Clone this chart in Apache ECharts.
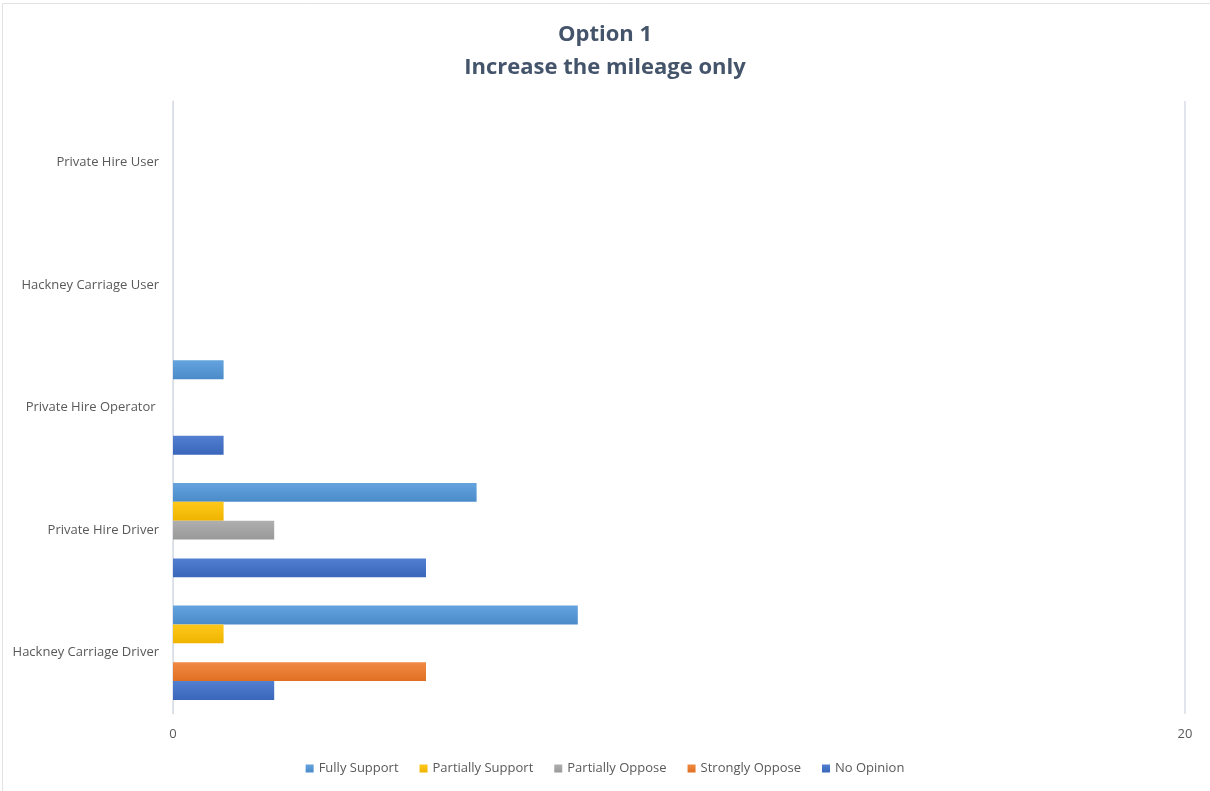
<!DOCTYPE html>
<html>
<head>
<meta charset="utf-8">
<script src="https://cdn.jsdelivr.net/npm/echarts@6/dist/echarts.min.js"></script>
<style>
html,body{margin:0;padding:0;background:#fff;}
#chart{width:1210px;height:791px;}
</style>
</head>
<body>
<div id="chart"></div>
<script>
const categories = ['Hackney Carriage Driver', 'Private Hire Driver', 'Private Hire Operator ', 'Hackney Carriage User', 'Private Hire User'];
const seriesNames = ['Fully Support', 'Partially Support', 'Partially Oppose', 'Strongly Oppose', 'No Opinion'];
const fullySupport = [8, 6, 1, 0, 0];
const partiallySupport = [1, 1, 0, 0, 0];
const partiallyOppose = [0, 2, 0, 0, 0];
const stronglyOppose = [5, 0, 0, 0, 0];
const noOpinion = [2, 5, 1, 0, 0];
const xTicks = [0, 20];

const values = [fullySupport, partiallySupport, partiallyOppose, stronglyOppose, noOpinion];
const colors = [
  ['#64a3de', '#4a8bc9'],
  ['#ffc81a', '#eeb400'],
  ['#afafaf', '#999999'],
  ['#f18a43', '#e06f22'],
  ['#527fd0', '#3a66bb']
];

const chart = echarts.init(document.getElementById('chart'));
const font = '"Open Sans", "Noto Sans", sans-serif';

chart.setOption({
  backgroundColor: '#fff',
  animation: false,
  title: {
    text: 'Option 1\nIncrease the mileage only',
    left: 'center',
    top: 13,
    textStyle: {
      fontFamily: font,
      fontSize: 22,
      fontWeight: 'bold',
      color: '#44546A',
      lineHeight: 33
    }
  },
  graphic: [{
    type: 'rect',
    shape: { x: 2.5, y: 3.5, width: 1300, height: 900 },
    style: { fill: 'none', stroke: '#e2e2e2', lineWidth: 1 },
    silent: true
  }],
  legend: {
    data: seriesNames,
    bottom: 11,
    left: 'center',
    icon: 'rect',
    itemWidth: 8,
    itemHeight: 8,
    itemGap: 21,
    textStyle: { fontFamily: font, fontSize: 13, color: '#595959' }
  },
  grid: { left: 173, right: 25, top: 101, bottom: 77, containLabel: false },
  xAxis: {
    type: 'value',
    min: xTicks[0],
    max: xTicks[1],
    interval: xTicks[1] - xTicks[0],
    axisLine: { show: false },
    axisTick: { show: false },
    axisLabel: { fontFamily: font, fontSize: 13, color: '#595959', margin: 14 },
    splitLine: { show: true, lineStyle: { color: '#d9dde4', width: 1.5 } }
  },
  yAxis: {
    type: 'category',
    data: categories,
    axisLine: { show: true, lineStyle: { color: '#d9dde4', width: 1 } },
    axisTick: { show: false },
    axisLabel: { fontFamily: font, fontSize: 13, color: '#595959', margin: 14 }
  },
  series: seriesNames.map((name, i) => ({
    name: name,
    type: 'bar',
    data: values[i],
    barGap: '0%',
    barCategoryGap: '23%',
    itemStyle: {
      color: new echarts.graphic.LinearGradient(0, 0, 0, 1, [
        { offset: 0, color: colors[i][0] },
        { offset: 1, color: colors[i][1] }
      ])
    }
  }))
});
</script>
</body>
</html>
